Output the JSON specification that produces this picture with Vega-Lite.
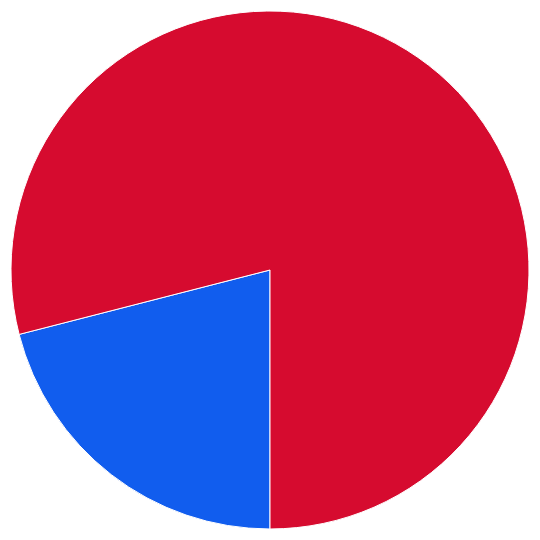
{
  "$schema": "https://vega.github.io/schema/vega-lite/v6.json",
  "width": 540,
  "height": 540,
  "padding": 0,
  "autosize": {"type": "fit", "contains": "padding"},
  "background": "white",
  "view": {"stroke": null},
  "data": {
    "values": [
      {"category": "B", "value": 21, "order": 1},
      {"category": "A", "value": 79, "order": 2}
    ]
  },
  "mark": {"type": "arc", "outerRadius": 259, "stroke": "white", "strokeWidth": 1},
  "encoding": {
    "theta": {
      "field": "value",
      "type": "quantitative",
      "stack": true,
      "scale": {"range": [3.14159265, 9.42477796]}
    },
    "order": {"field": "order", "type": "quantitative"},
    "color": {
      "field": "category",
      "type": "nominal",
      "scale": {"domain": ["A", "B"], "range": ["#D60B2F", "#115DEE"]},
      "legend": null
    }
  }
}
